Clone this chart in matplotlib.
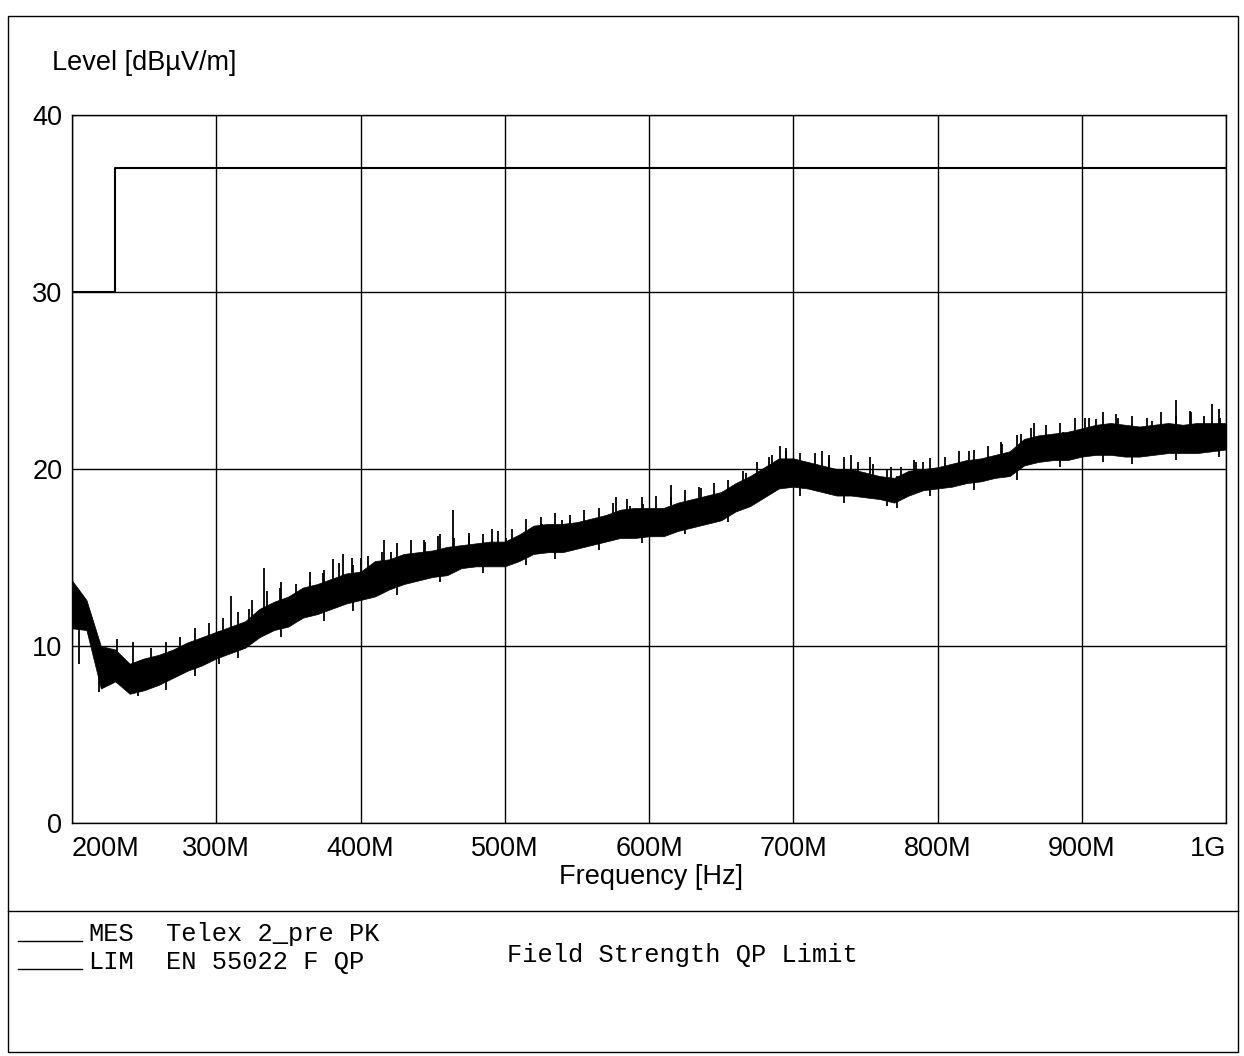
import numpy as np
import matplotlib.pyplot as plt
from matplotlib.lines import Line2D
from matplotlib.patches import Rectangle

freq_mhz = np.arange(200, 1001, 10)
level_lo = [11.0, 10.9, 7.6, 8.0, 7.3, 7.5, 7.8, 8.2, 8.6, 8.9,
            9.3, 9.6, 9.9, 10.5, 10.9, 11.1, 11.6, 11.8, 12.1, 12.4,
            12.6, 12.8, 13.2, 13.5, 13.7, 13.9, 14.0, 14.4, 14.5, 14.5,
            14.5, 14.8, 15.2, 15.3, 15.3, 15.5, 15.7, 15.9, 16.1, 16.1,
            16.2, 16.2, 16.5, 16.7, 16.9, 17.1, 17.6, 17.9, 18.4, 18.9,
            19.0, 18.9, 18.7, 18.5, 18.5, 18.4, 18.3, 18.1, 18.5, 18.8,
            18.9, 19.0, 19.2, 19.3, 19.5, 19.6, 20.2, 20.4, 20.5, 20.5,
            20.7, 20.8, 20.8, 20.7, 20.7, 20.8, 20.9, 20.9, 20.9, 21.0,
            21.1]
level_hi = [13.7, 12.6, 10.0, 9.8, 9.0, 9.3, 9.5, 9.8, 10.2, 10.5,
            10.8, 11.1, 11.4, 12.1, 12.5, 12.8, 13.3, 13.5, 13.8, 14.1,
            14.2, 14.8, 14.9, 15.2, 15.3, 15.4, 15.6, 15.7, 15.8, 15.9,
            15.9, 16.3, 16.8, 16.9, 16.9, 17.0, 17.2, 17.4, 17.7, 17.8,
            17.8, 17.8, 18.1, 18.3, 18.5, 18.7, 19.2, 19.6, 20.1, 20.6,
            20.6, 20.4, 20.2, 20.0, 20.0, 19.8, 19.6, 19.5, 19.9, 20.0,
            20.1, 20.3, 20.5, 20.6, 20.8, 21.0, 21.7, 21.9, 22.0, 22.1,
            22.3, 22.5, 22.6, 22.5, 22.4, 22.5, 22.6, 22.5, 22.6, 22.6,
            22.6]

# tall single peaks sticking out above the band
spike_f = [203, 231, 242, 310, 323, 333, 344, 365, 374, 381, 388, 394, 400,
           416, 421, 444, 454, 464, 475, 491, 501, 510, 526, 540, 545, 560,
           572, 577, 587, 596, 615, 636, 667, 683, 691, 695, 705, 720, 725,
           740, 753, 768, 784, 790, 822, 844, 858, 867, 887, 902, 910, 924,
           949, 965, 976, 990, 996]
spike_db = [13.3, 10.4, 10.2, 12.8, 12.1, 14.4, 13.3, 13.6, 14.1, 14.9, 15.2,
            15.0, 15.0, 16.0, 15.3, 16.0, 16.2, 17.7, 16.2, 16.6, 16.1, 16.1,
            16.9, 17.1, 17.1, 16.8, 17.4, 18.4, 17.9, 18.0, 19.1, 18.9, 19.8,
            20.7, 21.3, 21.2, 20.4, 21.0, 20.8, 20.8, 20.7, 20.1, 20.5, 20.4,
            21.0, 21.5, 22.0, 22.6, 22.1, 22.9, 22.8, 23.1, 22.7, 23.9, 23.2,
            23.7, 22.9]

# smaller peaks along the top edge (estimated)
minor_f = np.arange(255, 1000, 10)
minor_db = [9.9, 10.2, 10.5, 11.0, 11.3, 11.6, 11.9, 12.6, 13.1, 13.6,
            13.5, 14.2, 14.3, 14.7, 14.6, 15.1, 15.3, 15.8, 16.0, 15.9,
            16.3, 16.1, 16.4, 16.3, 16.5, 16.6, 17.2, 17.3, 17.5, 17.4,
            17.7, 17.8, 18.1, 18.3, 18.4, 18.5, 18.4, 18.8, 19.0, 19.2,
            19.4, 19.9, 20.4, 20.8, 21.0, 20.9, 20.9, 20.6, 20.7, 20.4,
            20.3, 20.0, 20.1, 20.4, 20.6, 20.7, 21.0, 21.1, 21.3, 21.4,
            21.9, 22.3, 22.5, 22.6, 22.9, 22.9, 23.2, 22.9, 23.0, 22.9,
            23.2, 23.0, 23.3, 23.0, 23.4]

# dips below the band
dip_f = [205, 219, 246, 265, 285, 302, 315, 345, 375, 395, 425, 455, 485,
         515, 535, 565, 595, 625, 655, 705, 735, 765, 772, 795, 825, 855,
         885, 915, 935, 965, 995]
dip_db = [9.0, 7.4, 7.2, 7.5, 8.3, 9.0, 9.3, 10.5, 11.4, 12.0, 12.9, 13.6,
          14.1, 14.6, 14.9, 15.4, 15.8, 16.3, 17.0, 18.5, 18.1, 17.9, 17.8,
          18.5, 18.8, 19.4, 20.1, 20.4, 20.3, 20.5, 20.7]

# EN 55022 class B QP limit
limit_f = [200, 230, 230, 1000]
limit_db = [30, 30, 37, 37]

xtick_mhz = [200, 300, 400, 500, 600, 700, 800, 900, 1000]
xtick_lbl = ['200M', '300M', '400M', '500M', '600M', '700M', '800M', '900M', '1G']
ytick_db = [0, 10, 20, 30, 40]

W, H = 1244, 1056
fig = plt.figure(figsize=(W / 100, H / 100), dpi=100)
sans = 'Liberation Sans'
mono = 'Liberation Mono'
fs = 19.5
fm = 18.3

ax = fig.add_axes([72 / W, 1 - 823 / H, (1226 - 72) / W, (823 - 115) / H])
ax.set_xlim(200, 1000)
ax.set_ylim(0, 40)

ax.fill_between(freq_mhz, level_lo, level_hi, color='black', lw=0.5)
base = np.interp(spike_f, freq_mhz, level_lo)
ax.vlines(spike_f, base, spike_db, color='black', lw=1.3)
base = np.interp(minor_f, freq_mhz, level_lo)
ax.vlines(minor_f, base, minor_db, color='black', lw=1.3)
top = np.interp(dip_f, freq_mhz, level_hi)
ax.vlines(dip_f, dip_db, top, color='black', lw=1.3)
ax.plot(limit_f, limit_db, color='black', lw=1.5)

ax.set_xticks(xtick_mhz)
ax.set_xticklabels(xtick_lbl, fontsize=fs, family=sans)
ax.set_yticks(ytick_db)
ax.set_yticklabels([str(v) for v in ytick_db], fontsize=fs, family=sans)
lbls = ax.get_xticklabels()
lbls[0].set_ha('left')
lbls[-1].set_ha('right')
ax.tick_params(axis='y', length=0, pad=7)
ax.tick_params(axis='x', length=0, pad=9)
ax.grid(True, color='black', lw=1.0)
for s in ax.spines.values():
    s.set_linewidth(1.0)

fig.text(52 / W, 1 - 63 / H, 'Level [dBµV/m]', fontsize=fs, family=sans, va='center')
fig.text(651 / W, 1 - 877 / H, 'Frequency [Hz]', fontsize=fs, family=sans,
         ha='center', va='center')

# page frame and legend block
fig.add_artist(Rectangle((8 / W, 4 / H), (1238 - 8) / W, (1052 - 16) / H,
                         transform=fig.transFigure, fill=False, lw=1.0, color='black'))
fig.add_artist(Line2D([8 / W, 1238 / W], [1 - 911 / H, 1 - 911 / H],
                      transform=fig.transFigure, lw=1.0, color='black'))
for yy, tag, name in [(934, 'MES', 'Telex 2_pre PK'), (962, 'LIM', 'EN 55022 F QP')]:
    fig.add_artist(Line2D([18 / W, 82 / W], [1 - (yy + 7) / H] * 2,
                          transform=fig.transFigure, lw=1.0, color='black'))
    fig.text(88 / W, 1 - yy / H, tag, fontsize=fm, family=mono, va='center')
    fig.text(166 / W, 1 - yy / H, name, fontsize=fm, family=mono, va='center')
fig.text(507 / W, 1 - 955 / H, 'Field Strength QP Limit', fontsize=fm,
         family=mono, va='center')

fig.savefig('out.png', dpi=100)
